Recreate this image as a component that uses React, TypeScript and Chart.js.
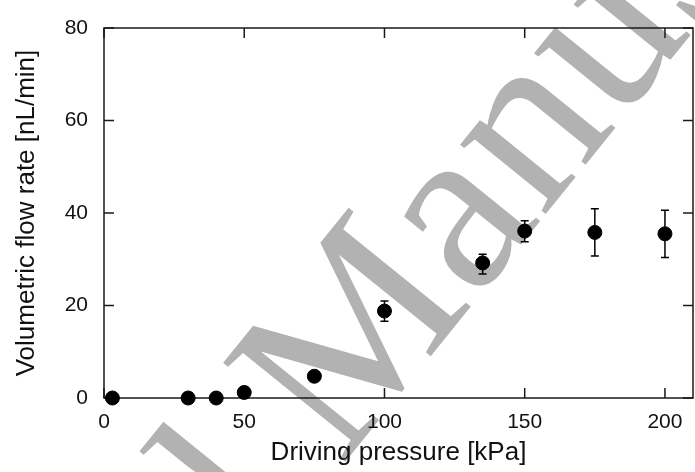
import React, { useEffect, useRef } from 'react';
import { Chart, registerables } from 'chart.js';

Chart.register(...registerables);

// Data
const pressures = [3, 30, 40, 50, 75, 100, 135, 150, 175, 200];
const flowRates = [0, 0, 0, 1.2, 4.7, 18.8, 29.2, 36.1, 35.8, 35.5];
const errLow: (number | null)[] = [null, null, null, null, null, 16.6, 26.8, 33.8, 30.7, 30.4];
const errHigh: (number | null)[] = [null, null, null, null, null, 21.0, 31.1, 38.3, 40.9, 40.6];
const xTicks = [0, 50, 100, 150, 200];
const yTicks = [0, 20, 40, 60, 80];
const xTitle = 'Driving pressure [kPa]';
const yTitle = 'Volumetric flow rate [nL/min]';
const watermarkText = 'Accepted Manuscript';

const INK = '#111';
const SANS = '"Liberation Sans", Arial, sans-serif';

const watermarkPlugin = {
  id: 'watermark',
  beforeDraw(chart: any) {
    const ctx = chart.ctx;
    ctx.save();
    ctx.translate(341, 467);
    ctx.rotate((-51 * Math.PI) / 180);
    ctx.font = '240px "Liberation Serif", "Times New Roman", serif';
    ctx.fillStyle = 'rgb(178,178,178)';
    ctx.textBaseline = 'alphabetic';
    ctx.textAlign = 'left';
    const pre = ctx.measureText('Accepted ').width;
    ctx.fillText(watermarkText, -pre, 0);
    ctx.restore();
  },
};

const framePlugin = {
  id: 'frame',
  beforeDatasetsDraw(chart: any) {
    const { ctx, chartArea } = chart;
    const { left, right, top, bottom } = chartArea;
    const xs = chart.scales.x;
    const ys = chart.scales.y;
    const tl = 10;
    ctx.save();
    ctx.strokeStyle = '#1a1a1a';
    ctx.lineWidth = 1.5;
    ctx.strokeRect(left, top, right - left, bottom - top);
    ctx.beginPath();
    xTicks.forEach((v) => {
      const px = xs.getPixelForValue(v);
      ctx.moveTo(px, bottom);
      ctx.lineTo(px, bottom - tl);
      ctx.moveTo(px, top);
      ctx.lineTo(px, top + tl);
    });
    yTicks.forEach((v) => {
      const py = ys.getPixelForValue(v);
      ctx.moveTo(left, py);
      ctx.lineTo(left + tl, py);
      ctx.moveTo(right, py);
      ctx.lineTo(right - tl, py);
    });
    ctx.stroke();
    ctx.restore();
  },
};

const errorBarPlugin = {
  id: 'errorBars',
  afterDatasetsDraw(chart: any) {
    const { ctx } = chart;
    const xs = chart.scales.x;
    const ys = chart.scales.y;
    ctx.save();
    ctx.strokeStyle = '#000';
    ctx.lineWidth = 1.5;
    ctx.beginPath();
    pressures.forEach((p, i) => {
      const lo = errLow[i];
      const hi = errHigh[i];
      if (lo == null || hi == null) return;
      const px = xs.getPixelForValue(p);
      const pLo = ys.getPixelForValue(lo);
      const pHi = ys.getPixelForValue(hi);
      ctx.moveTo(px, pLo);
      ctx.lineTo(px, pHi);
      ctx.moveTo(px - 4, pLo);
      ctx.lineTo(px + 4, pLo);
      ctx.moveTo(px - 4, pHi);
      ctx.lineTo(px + 4, pHi);
    });
    ctx.stroke();
    ctx.restore();
  },
};

export default function App() {
  const canvasRef = useRef<HTMLCanvasElement | null>(null);

  useEffect(() => {
    document.body.style.margin = '0';
    const canvas = canvasRef.current;
    if (!canvas) return;
    const chart = new Chart(canvas, {
      type: 'scatter',
      data: {
        datasets: [
          {
            data: pressures.map((p, i) => ({ x: p, y: flowRates[i] })),
            backgroundColor: '#000',
            borderColor: '#000',
            borderWidth: 1,
            pointRadius: 7,
            pointHoverRadius: 7,
            clip: false,
          },
        ],
      },
      options: {
        animation: false,
        responsive: false,
        maintainAspectRatio: false,
        layout: { autoPadding: false, padding: { top: 28, right: 2, left: 0, bottom: 0 } },
        plugins: { legend: { display: false }, tooltip: { enabled: false } },
        scales: {
          x: {
            type: 'linear',
            min: 0,
            max: 210,
            afterBuildTicks: (axis: any) => {
              axis.ticks = xTicks.map((v) => ({ value: v }));
            },
            afterFit: (axis: any) => {
              axis.height = 74;
              axis.paddingLeft = 0;
              axis.paddingRight = 0;
            },
            grid: { display: false, drawTicks: false },
            border: { display: false },
            ticks: {
              font: { family: SANS, size: 21 },
              color: INK,
              padding: 12,
              maxRotation: 0,
              autoSkip: false,
            },
            title: {
              display: true,
              text: xTitle,
              font: { family: SANS, size: 26 },
              color: INK,
              padding: { top: 0, bottom: 4 },
            },
          },
          y: {
            type: 'linear',
            min: 0,
            max: 80,
            afterBuildTicks: (axis: any) => {
              axis.ticks = yTicks.map((v) => ({ value: v }));
            },
            afterFit: (axis: any) => {
              axis.width = 104;
              axis.paddingTop = 0;
              axis.paddingBottom = 0;
            },
            grid: { display: false, drawTicks: false },
            border: { display: false },
            ticks: {
              font: { family: SANS, size: 21 },
              color: INK,
              padding: 16,
              autoSkip: false,
            },
            title: {
              display: true,
              text: yTitle,
              font: { family: SANS, size: 26 },
              color: INK,
              padding: { top: 11, bottom: 0 },
            },
          },
        },
      },
      plugins: [watermarkPlugin, framePlugin, errorBarPlugin],
    });
    return () => chart.destroy();
  }, []);

  return (
    <div style={{ position: 'absolute', left: 0, top: 0, width: 695, height: 472 }}>
      <canvas ref={canvasRef} width={695} height={472} style={{ width: 695, height: 472, display: 'block' }} />
    </div>
  );
}
